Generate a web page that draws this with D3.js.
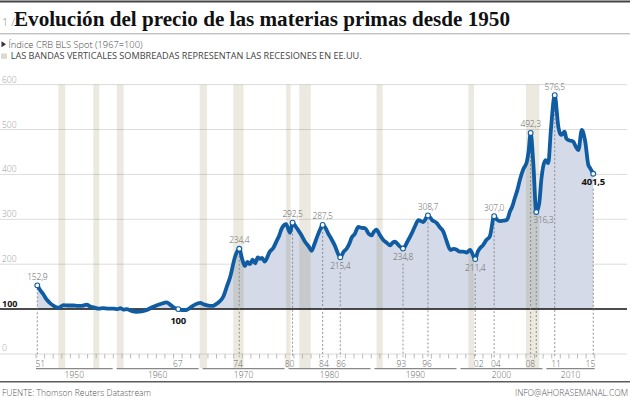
<!DOCTYPE html>
<html><head><meta charset="utf-8">
<script src="https://cdn.jsdelivr.net/npm/d3@7"></script>
<style>
html,body{margin:0;padding:0;background:#fff;}
svg{display:block;}
text{font-family:"Open Sans","Lato",sans-serif;}
</style></head>
<body>
<script>
// ---- DATA ----
const years = [1951.15,1951.5,1951.85,1952.2,1952.6,1953.0,1953.6,1954.2,1954.8,1955.3,1955.9,1956.5,1956.9,1957.3,1957.7,1958.3,1958.8,1959.4,1960.0,1960.5,1960.8,1961.2,1961.55,1962.1,1962.7,1963.3,1963.9,1964.5,1965.0,1965.6,1966.2,1966.6,1967.0,1967.55,1968.0,1968.5,1969.0,1969.5,1970.1,1970.6,1971.05,1971.5,1971.8,1972.3,1972.8,1973.2,1973.6,1974.15,1974.65,1975.0,1975.3,1975.6,1975.9,1976.2,1976.5,1976.8,1977.06,1977.3,1977.6,1978.2,1978.6,1979.0,1979.3,1979.6,1980.1,1980.55,1980.85,1981.2,1981.5,1981.9,1982.3,1982.7,1983.07,1983.4,1983.65,1984.0,1984.35,1984.7,1985.0,1985.4,1985.8,1986.1,1986.4,1986.8,1987.15,1987.5,1987.7,1988.1,1988.5,1988.9,1989.3,1989.7,1990.05,1990.3,1990.6,1991.0,1991.4,1991.8,1992.2,1992.5,1992.77,1993.2,1993.7,1994.2,1994.7,1995.1,1995.5,1996.06,1996.6,1997.1,1997.6,1998.0,1998.4,1998.8,1999.2,1999.6,1999.95,2000.3,2000.7,2001.1,2001.5,2002.1,2002.4,2002.66,2003.0,2003.4,2003.8,2004.3,2004.6,2005.0,2005.4,2005.8,2006.15,2006.4,2006.7,2007.0,2007.3,2007.7,2008.1,2008.3,2008.55,2008.86,2009.2,2009.55,2009.8,2010.0,2010.3,2010.6,2010.9,2011.35,2011.77,2012.0,2012.16,2012.5,2012.7,2012.9,2013.2,2013.5,2013.8,2014.1,2014.5,2014.9,2015.26,2015.5,2015.83];
const values = [152.9,142,133,122,114,108,103,109,108,108,107,108,110,106,104,101,102,101,101,100,102,99,100,96,94,95,98,104,108,112,115,110,104,100,98,98,104,110,114,110,108,107,109,116,128,150,172,216,234.4,210,196,205,200,210,202,215,212,214,206,228,236,252,264,280,289,270,292.5,284,276,264,250,240,230,245,258,275,287.5,280,268,255,240,225,215.4,228,235,248,258,268,283,281,280,268,264,272,277,265,254,248,242,248,250,242,234.8,250,268,285,298,294,308.7,298,292,282,272,250,232,234,232,228,228,226,232,211.4,228,236,242,254,262,307.0,300,296,297,299,318,328,347,365,388,412,428,450,492.3,424,316.3,336,390,417,432,425,498,576.5,506,490,488,495,480,477,475,473,462,454,499,473,421,413,401.5];

const annotYears  = [1951.15,1967.55,1974.65,1980.85,1984.35,1986.4,1993.7,1996.6,2002.1,2004.3,2008.55,2009.2,2011.35,2015.83];
const annotValues = [152.9,100,234.4,292.5,287.5,215.4,234.8,308.7,211.4,307.0,492.3,316.3,576.5,401.5];
const annotLabels = ["152,9","100","234,4","292,5","287,5","215,4","234,8","308,7","211,4","307,0","492,3","316,3","576,5","401,5"];

const tickYears  = [1951,1967,1974,1980,1984,1986,1993,1996,2002,2004,2008,2011,2015];
const tickLabels = ["51","67","74","80","84","86","93","96","02","04","08","11","15"];

const decades = [1950,1960,1970,1980,1990,2000,2010];
const decadeLabels = ["1950","1960","1970","1980","1990","2000","2010"];

const recessionStart = [1953.6,1957.67,1960.4,1970.05,1973.95,1980.1,1981.63,1990.62,2001.3,2008.0];
const recessionEnd   = [1954.4,1958.37,1961.2,1970.9,1975.15,1980.62,1982.96,1991.33,2001.96,2009.56];

const yTicks = [0,100,200,300,400,500,600];

const titleNum = "1 /";
const titleText = "Evolución del precio de las materias primas desde 1950";
const legend1 = "Índice CRB BLS Spot (1967=100)";
const legend2 = "LAS BANDAS VERTICALES SOMBREADAS REPRESENTAN LAS RECESIONES EN EE.UU.";
const sourceText = "FUENTE: Thomson Reuters Datastream";
const creditText = "INFO@AHORASEMANAL.COM";

// ---- CHART ----
const W = 630, H = 398;
const svg = d3.select("body").append("svg").attr("width", W).attr("height", H);
const x = d3.scaleLinear().domain([1951, 2016]).range([36, 594.7]);
const y = d3.scaleLinear().domain([0, 600]).range([354, 84.6]);
const data = years.map((t, i) => ({t, v: values[i]}));
const blue = "#0f5ca3";

// header
svg.append("rect").attr("x",0).attr("y",0.5).attr("width",W).attr("height",2).attr("fill","#444");
svg.append("text").attr("x",2).attr("y",26).attr("font-size",11).attr("fill","#888").attr("font-weight",300).text(titleNum);
svg.append("text").attr("x",14).attr("y",26)
  .style("font-family","'Liberation Serif','DejaVu Serif',serif")
  .attr("font-weight","bold").attr("font-size",21).attr("fill","#111")
  .attr("textLength",496).attr("lengthAdjust","spacingAndGlyphs").text(titleText);
svg.append("rect").attr("x",0).attr("y",33.3).attr("width",W).attr("height",1).attr("fill","#aaa");

svg.append("path").attr("d","M1.5,41.3 L6,44.3 L1.5,47.3 Z").attr("fill","#333");
svg.append("text").attr("x",8.5).attr("y",47.5).attr("font-size",8.6).attr("fill","#444").attr("font-weight",300)
  .attr("textLength",134).attr("lengthAdjust","spacingAndGlyphs").text(legend1);
svg.append("rect").attr("x",1).attr("y",53.5).attr("width",6).attr("height",5.4).attr("fill","#dcdbd2");
svg.append("text").attr("x",10.7).attr("y",59.2).attr("font-size",8.4).attr("fill","#444")
  .attr("textLength",351).attr("lengthAdjust","spacingAndGlyphs").text(legend2);

// gridlines
const g = svg.append("g");
g.selectAll("line.grid").data(yTicks.filter(d => d !== 100)).enter().append("line")
  .attr("x1",0).attr("x2",627).attr("y1",d=>y(d)).attr("y2",d=>y(d))
  .attr("stroke","#dcdcdc").attr("stroke-width",1);
g.selectAll("text.yl").data(yTicks).enter().append("text")
  .attr("x",2).attr("y",d=>y(d)-(d===0?3.5:2))
  .attr("font-size",d=>d===100?9:8.5)
  .attr("font-weight",d=>d===100?"bold":300)
  .attr("fill",d=>d===100?"#111":"#999").text(d=>d);

// area
const area = d3.area().x(d=>x(d.t)).y0(y(100)).y1(d=>y(d.v)).curve(d3.curveMonotoneX);
svg.append("path").datum(data).attr("d",area).attr("fill","#d4dae7");

// recession bands
svg.selectAll("rect.band").data(recessionStart).enter().append("rect")
  .attr("x",(d)=>x(d)).attr("width",(d,i)=>x(recessionEnd[i])-x(d))
  .attr("y",y(600)).attr("height",368-y(600))
  .attr("fill","rgb(122,108,38)").attr("fill-opacity",0.14);

// 100 line
svg.append("line").attr("x1",0).attr("x2",627).attr("y1",y(100)).attr("y2",y(100))
  .attr("stroke","#111").attr("stroke-width",1.5);

// x axis ticks
const allYears = d3.range(1951, 2017);
svg.selectAll("line.tick").data(allYears).enter().append("line")
  .attr("x1",d=>x(d)).attr("x2",d=>x(d)).attr("y1",354).attr("y2",358.5)
  .attr("stroke","#aaa").attr("stroke-width",0.8);
svg.selectAll("text.tl").data(tickYears).enter().append("text")
  .attr("x",d=>x(d+0.5)).attr("y",367).attr("text-anchor","middle")
  .attr("font-size",8.5).attr("font-weight",300).attr("fill","#666").text((d,i)=>tickLabels[i]);

// decade bars
const dStart = d => d < 1951 ? 1951 : d + 0.38;
const dEnd = d => Math.min(d + 9.92, 2016);
svg.selectAll("line.dec").data(decades).enter().append("line")
  .attr("x1",d=>x(dStart(d))).attr("x2",d=>x(dEnd(d))).attr("y1",368.6).attr("y2",368.6)
  .attr("stroke","#888").attr("stroke-width",1.4);
svg.selectAll("text.dec").data(decades).enter().append("text")
  .attr("x",d=>(x(dStart(d))+x(dEnd(d)))/2).attr("y",377.5).attr("text-anchor","middle")
  .attr("font-size",8.5).attr("font-weight",300).attr("fill","#666").text((d,i)=>decadeLabels[i]);

// annotations
const ann = annotYears.map((t,i)=>{
  const idx = years.indexOf(t);
  const last = idx === values.length-1;
  let below;
  if (idx === 0) below = false;
  else if (last) below = true;
  else below = annotValues[i] < (values[idx-1] + values[idx+1]) / 2;
  const crowdedLeft = i > 0 && (t - annotYears[i-1]) < 1;
  return {t, v: annotValues[i], label: annotLabels[i], below, crowdedLeft,
          bold: annotLabels[i]==="100" || last, ref: annotLabels[i]==="100"};
});
svg.selectAll("line.ann").data(ann.filter(d=>!d.ref)).enter().append("line")
  .attr("x1",d=>x(d.t)).attr("x2",d=>x(d.t))
  .attr("y1",d=>d.below ? y(d.v)+15 : y(d.v)+3)
  .attr("y2",357)
  .attr("stroke","#777").attr("stroke-width",0.8).attr("stroke-dasharray","2,2");

// line
const line = d3.line().x(d=>x(d.t)).y(d=>y(d.v)).curve(d3.curveMonotoneX);
svg.append("path").datum(data).attr("d",line).attr("fill","none")
  .attr("stroke",blue).attr("stroke-width",3.8).attr("stroke-linejoin","round").attr("stroke-linecap","round");

// markers
svg.selectAll("circle.m").data(ann).enter().append("circle")
  .attr("cx",d=>x(d.t)).attr("cy",d=>y(d.v)).attr("r",2.4)
  .attr("fill","#fff").attr("stroke",blue).attr("stroke-width",1.1);

svg.selectAll("text.ann").data(ann).enter().append("text")
  .attr("x",d=>d.crowdedLeft ? x(d.t)-3 : x(d.t))
  .attr("text-anchor",d=>d.crowdedLeft ? "start" : "middle")
  .attr("y",d=>d.below ? y(d.v)+(d.ref?15:11.5) : y(d.v)-5.5)
  .attr("font-size",d=>d.bold?9.5:8.5)
  .attr("font-weight",d=>d.bold?"bold":300)
  .attr("fill",d=>d.bold?"#111":"#666")
  .attr("letter-spacing",-0.2)
  .text(d=>d.label);

// footer
svg.append("rect").attr("x",0).attr("y",381.2).attr("width",W).attr("height",1.2).attr("fill","#333");
svg.append("text").attr("x",2).attr("y",395.5).attr("font-size",8.5).attr("font-weight",300).attr("fill","#555").text(sourceText);
svg.append("text").attr("x",628).attr("y",395.5).attr("text-anchor","end").attr("font-size",8.5).attr("font-weight",300).attr("fill","#555").text(creditText);
</script>
</body></html>
